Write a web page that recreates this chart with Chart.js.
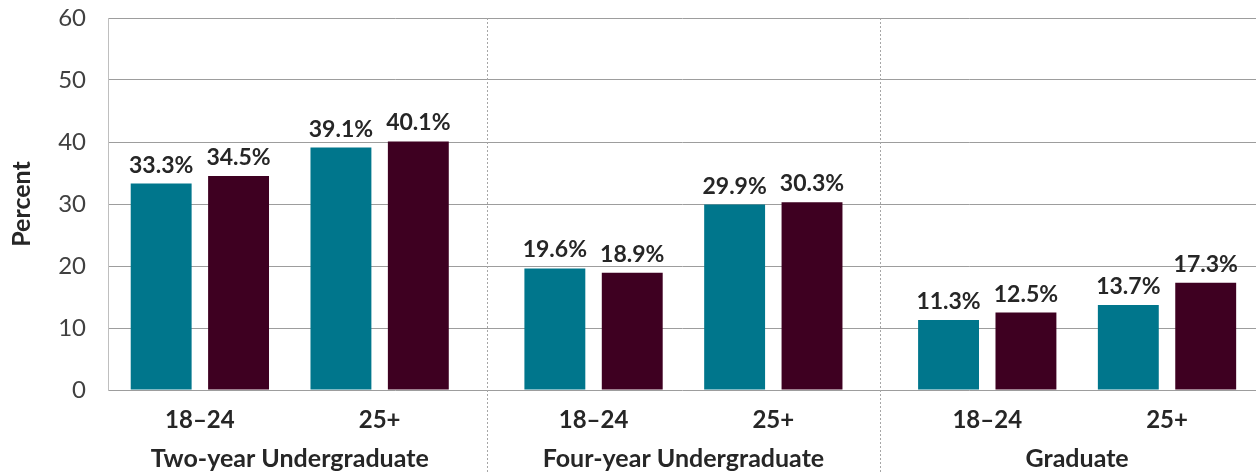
<!DOCTYPE html>
<html>
<head>
<meta charset="utf-8">
<script src="https://cdn.jsdelivr.net/npm/chart.js@4"></script>
<style>
  html, body { margin: 0; padding: 0; background: #fff; }
  #wrap { width: 1256px; height: 472px; }
</style>
</head>
<body>
<div id="wrap"><canvas id="chart"></canvas></div>
<script>
// Programs along the bottom, age groups inside each program
const programs = ['Two-year Undergraduate', 'Four-year Undergraduate', 'Graduate'];
const ageGroups = ['18–24', '25+'];

// Percent values, one per program/age pair (teal and maroon bars)
const tealValues = [33.3, 39.1, 19.6, 29.9, 11.3, 13.7];
const maroonValues = [34.5, 40.1, 18.9, 30.3, 12.5, 17.3];

const yTicks = [0, 10, 20, 30, 40, 50, 60];

const TEAL = '#00768c';
const MAROON = '#3e0021';
const INK = '#262626';
const FONT = 'Lato, "DejaVu Sans", sans-serif';

// programs sit a bit further apart than the age groups inside them
const GROUP_STEP = 2.19;
const slots = [];
programs.forEach((p, g) => ageGroups.forEach((a, s) => slots.push(g * GROUP_STEP + s)));

const toPoints = (values) => values.map((v, i) => ({ x: slots[i], y: v }));

// value labels above every bar
const barValues = {
  id: 'barValues',
  afterDatasetsDraw(chart) {
    const ctx = chart.ctx;
    ctx.save();
    ctx.font = 'bold 23px ' + FONT;
    ctx.fillStyle = INK;
    ctx.textAlign = 'center';
    ctx.textBaseline = 'alphabetic';
    chart.data.datasets.forEach((ds, di) => {
      chart.getDatasetMeta(di).data.forEach((bar, i) => {
        ctx.fillText(ds.data[i].y.toFixed(1) + '%', bar.x, bar.y - 11);
      });
    });
    ctx.restore();
  }
};

// dotted dividers between programs and the program names under the age labels
const programAxis = {
  id: 'programAxis',
  beforeDatasetsDraw(chart) {
    const ctx = chart.ctx;
    const x = chart.scales.x;
    ctx.save();
    ctx.strokeStyle = '#a6a6a6';
    ctx.lineWidth = 1;
    ctx.setLineDash([2, 2]);
    for (let g = 1; g < programs.length; g++) {
      const left = x.getPixelForValue(slots[g * 2 - 1]);
      const right = x.getPixelForValue(slots[g * 2]);
      const px = Math.round((left + right) / 2) + 0.5;
      ctx.beginPath();
      ctx.moveTo(px, chart.chartArea.top);
      ctx.lineTo(px, chart.height);
      ctx.stroke();
    }
    ctx.restore();
  },
  afterDraw(chart) {
    const ctx = chart.ctx;
    const x = chart.scales.x;
    ctx.save();
    ctx.font = 'bold 25px ' + FONT;
    ctx.fillStyle = INK;
    ctx.textAlign = 'center';
    ctx.textBaseline = 'alphabetic';
    programs.forEach((name, g) => {
      const mid = (x.getPixelForValue(slots[g * 2]) + x.getPixelForValue(slots[g * 2 + 1])) / 2;
      ctx.fillText(name, mid, 467);
    });
    ctx.restore();
  }
};

new Chart(document.getElementById('chart'), {
  type: 'bar',
  data: {
    datasets: [
      { data: toPoints(tealValues), backgroundColor: TEAL },
      { data: toPoints(maroonValues), backgroundColor: MAROON }
    ]
  },
  options: {
    responsive: true,
    maintainAspectRatio: false,
    animation: false,
    categoryPercentage: 0.861,
    barPercentage: 0.787,
    layout: { padding: 0 },
    plugins: {
      legend: { display: false },
      tooltip: { enabled: false }
    },
    scales: {
      x: {
        type: 'linear',
        offset: false,
        min: slots[0] - 0.511,
        max: slots[slots.length - 1] + 0.495,
        afterBuildTicks: (axis) => { axis.ticks = slots.map((v) => ({ value: v })); },
        afterFit: (axis) => {
          axis.height = 82;
          axis.paddingLeft = 0;
          axis.paddingRight = 0;
        },
        grid: { display: false, drawTicks: false },
        border: { display: false },
        ticks: {
          autoSkip: false,
          maxRotation: 0,
          padding: 16,
          color: INK,
          font: { family: FONT, size: 24, weight: 'bold' },
          callback: (value, index) => ageGroups[index % ageGroups.length]
        }
      },
      y: {
        min: 0,
        max: 60,
        afterBuildTicks: (axis) => { axis.ticks = yTicks.map((v) => ({ value: v })); },
        afterFit: (axis) => {
          axis.width = 108;
          axis.paddingTop = 18;
          axis.paddingBottom = 0;
        },
        grid: { color: '#9d9d9d', lineWidth: 1, drawTicks: false },
        border: { display: true, color: '#bfbfbf' },
        ticks: {
          padding: 22,
          color: '#404040',
          font: { family: FONT, size: 24 }
        },
        title: {
          display: true,
          text: 'Percent',
          color: INK,
          padding: { top: 7, bottom: 0 },
          font: { family: FONT, size: 25, weight: 'bold' }
        }
      }
    }
  },
  plugins: [barValues, programAxis]
});
</script>
</body>
</html>
